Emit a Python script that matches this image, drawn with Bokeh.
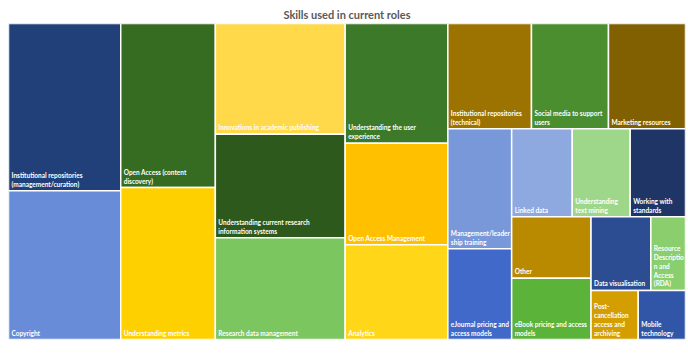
from bokeh.plotting import figure
from bokeh.models import ColumnDataSource, Range1d
from bokeh.core.properties import value
from bokeh.embed import file_html
from bokeh.resources import INLINE

# ---- data ----
skills = [
    "Institutional repositories (management/curation)", "Copyright",
    "Open Access (content discovery)", "Understanding metrics",
    "Innovations in academic publishing",
    "Understanding current research information systems",
    "Research data management", "Understanding the user experience",
    "Open Access Management", "Analytics",
    "Institutional repositories (technical)", "Social media to support users",
    "Marketing resources", "Management/leadership training",
    "eJournal pricing and access models", "Linked data",
    "Understanding text mining", "Working with standards", "Other",
    "eBook pricing and access models", "Data visualisation",
    "Resource Description and Access (RDA)",
    "Post-cancellation access and archiving", "Mobile technology",
]
counts = [81, 72, 67, 62, 62, 58, 57, 53, 45, 42, 38, 35, 35, 33, 25,
          23, 22, 21, 21, 21, 19, 11, 10, 10]
labels = [
    "Institutional repositories\n(management/curation)", "Copyright",
    "Open Access (content\ndiscovery)", "Understanding metrics",
    "Innovations in academic publishing",
    "Understanding current research\ninformation systems",
    "Research data management", "Understanding the user\nexperience",
    "Open Access Management", "Analytics",
    "Institutional repositories\n(technical)", "Social media to support\nusers",
    "Marketing resources", "Management/leader\nship training",
    "eJournal pricing and\naccess models", "Linked data",
    "Understanding\ntext mining", "Working with\nstandards", "Other",
    "eBook pricing and access\nmodels", "Data visualisation",
    "Resource\nDescriptio\nn and\nAccess\n(RDA)",
    "Post-\ncancellation\naccess and\narchiving", "Mobile\ntechnology",
]
colors = [
    "#213F78", "#698CD8", "#366B22", "#FFD000", "#FFD94A", "#2D5A1C",
    "#7CC660", "#3C7A2A", "#FFC000", "#FFD618", "#9C7200", "#4A8E2F",
    "#806000", "#7898DA", "#4169C9", "#8EA9E0", "#9ED78A", "#1F3565",
    "#B98A00", "#5BB33A", "#2D4D92", "#8ACE6E", "#D49E00", "#3156A8",
]

# treemap nesting: "h" = side by side, "v" = stacked
structure = ("h", [("v", [0, 1]), ("v", [2, 3]), ("v", [4, 5, 6]), ("v", [7, 8, 9]),
    ("v", [("h", [10, 11, 12]),
           ("h", [("v", [13, 14]),
                  ("v", [("h", [15, 16, 17]),
                         ("h", [("v", [18, 19]),
                                ("v", [("h", [20, 21]), ("h", [22, 23])])])])])])])

W, H = 677.0, 316.0
rects = {}

def total(node):
    if isinstance(node, int):
        return counts[node]
    return sum(total(c) for c in node[1])

def place(node, x0, y0, x1, y1):
    if isinstance(node, int):
        rects[node] = (x0, y0, x1, y1)
        return
    orient, children = node
    s = total(node)
    pos = x0 if orient == "h" else y0
    for c in children:
        f = total(c) / s
        if orient == "h":
            w = (x1 - x0) * f
            place(c, pos, y0, pos + w, y1)
        else:
            w = (y1 - y0) * f
            place(c, x0, pos, x1, pos + w)
        pos += w

place(structure, 0, 0, W, H)

n = len(skills)
src = ColumnDataSource(dict(
    left=[rects[i][0] for i in range(n)],
    top=[rects[i][1] for i in range(n)],
    right=[rects[i][2] for i in range(n)],
    bottom=[rects[i][3] for i in range(n)],
    tx=[rects[i][0] + 3 for i in range(n)],
    ty=[rects[i][3] - 3 for i in range(n)],
    label=labels, color=colors, skill=skills, count=counts,
))

p = figure(width=688, height=343, output_backend="svg", toolbar_location=None,
           x_range=Range1d(0, W), y_range=Range1d(H, 0),
           x_axis_location=None, y_axis_location=None,
           min_border_left=8, min_border_right=3, min_border_top=23,
           min_border_bottom=4, title="Skills used in current roles")
p.title.align = "center"
p.title.text_font = "Lato"
p.title.text_font_size = "11px"
p.title.text_font_style = "bold"
p.title.text_color = "#595959"
p.title.standoff = 6
p.grid.visible = False
p.outline_line_color = None

p.quad(left="left", right="right", top="top", bottom="bottom", source=src,
       fill_color="color", line_color="white", line_width=1.5)
p.text(x="tx", y="ty", text="label", source=src, text_color="white",
       text_font=value("Lato"), text_font_style="bold",
       text_font_size="6.5px", text_baseline="bottom", text_align="left",
       text_line_height=1.25)

open("out.html", "w").write(file_html(p, INLINE))
